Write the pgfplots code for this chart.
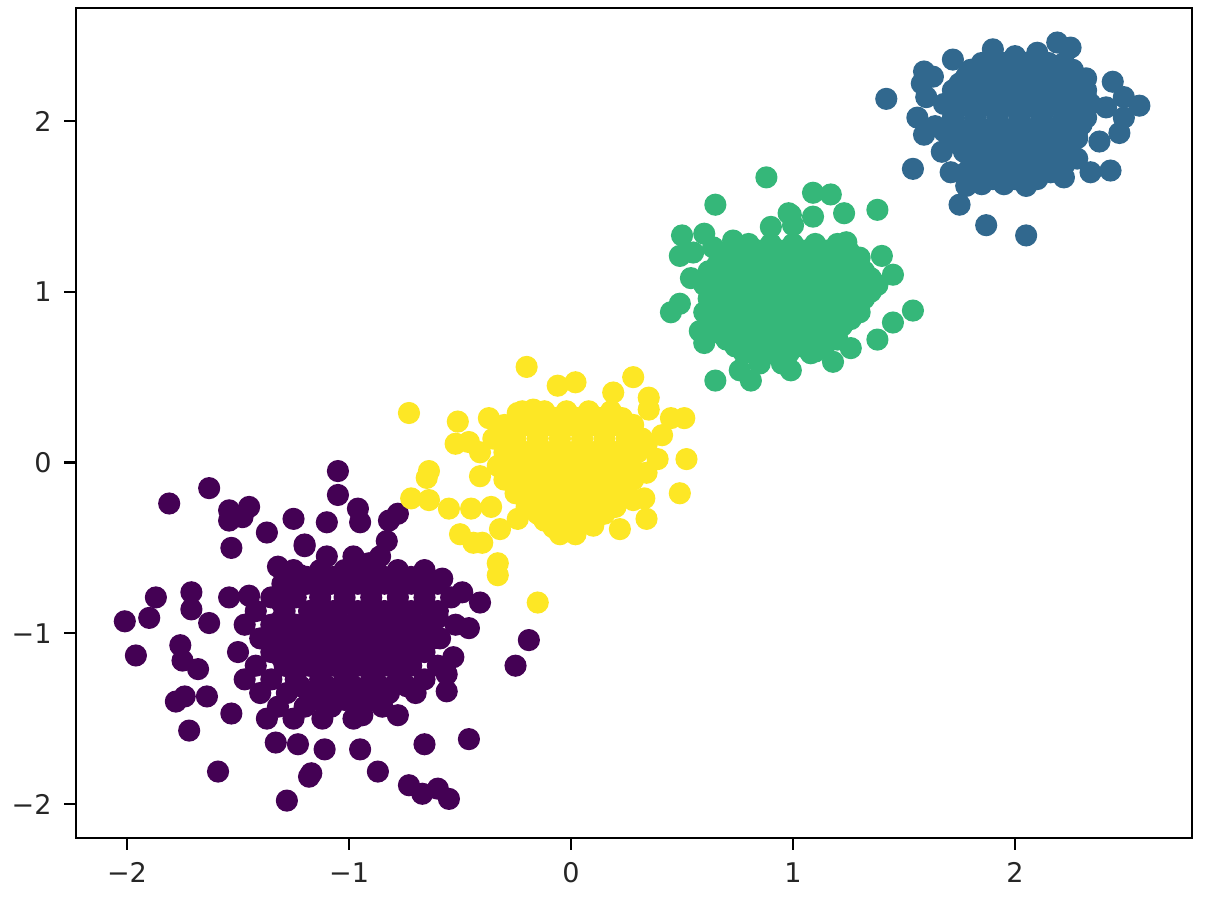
\documentclass[border=0pt]{standalone}
\usepackage{pgfplots}
\pgfplotsset{compat=1.18}
\usepackage{fontspec}
\setmainfont{DejaVu Sans}
\definecolor{vpurple}{HTML}{440154}
\definecolor{vblue}{HTML}{31688E}
\definecolor{vgreen}{HTML}{35B779}
\definecolor{vyellow}{HTML}{FDE725}
\begin{document}
\begin{tikzpicture}
\begin{axis}[
  scale only axis,
  width=111.6mm, height=83mm,
  xmin=-2.2297, xmax=2.797,
  ymin=-2.199, ymax=2.662,
  xtick={-2,-1,0,1,2}, xticklabels={−2,−1,0,1,2},
  ytick={-2,-1,0,1,2}, yticklabels={−2,−1,0,1,2},
  tick align=outside, tick pos=left,
  major tick length=1.2mm,
  axis line style={line width=0.7pt},
  every tick/.style={black, line width=0.7pt},
  tick label style={font=\fontsize{7.7}{9}\selectfont, text=black!85},
  every axis plot/.append style={only marks, mark=*, mark size=2.95pt, mark options={draw=none}},
]
% purple cluster
\addplot[color=vpurple, mark options={fill=vpurple}] coordinates {
(-1.81,-0.24) (-1.63,-0.15) (-1.54,-0.28) (-1.45,-0.26) (-1.54,-0.34) (-1.48,-0.32)
(-1.37,-0.41) (-1.25,-0.33) (-1.53,-0.50) (-1.20,-0.49) (-1.32,-0.61) (-1.22,-0.66)
(-1.87,-0.79) (-1.71,-0.76) (-1.71,-0.86) (-1.54,-0.79) (-1.45,-0.78) (-2.01,-0.93)
(-1.90,-0.91) (-1.63,-0.94) (-1.05,-0.05) (-1.05,-0.19) (-0.96,-0.27) (-0.95,-0.35)
(-1.10,-0.35) (-0.78,-0.30) (-0.82,-0.34) (-0.83,-0.46) (-1.20,-0.48) (-0.91,-0.59)
(-0.41,-0.82) (-0.58,-0.68) (-0.49,-0.76) (-1.96,-1.13) (-1.76,-1.07) (-1.75,-1.16)
(-1.68,-1.21) (-1.78,-1.40) (-1.74,-1.37) (-1.64,-1.37) (-1.53,-1.47) (-1.72,-1.57)
(-1.59,-1.81) (-1.28,-1.98) (-1.33,-1.64) (-1.18,-1.84) (-1.37,-1.50) (-1.23,-1.65)
(-0.46,-0.97) (-0.59,-1.03) (-0.53,-1.14) (-0.56,-1.24) (-0.56,-1.34) (-0.19,-1.04)
(-0.25,-1.19) (-0.46,-1.62) (-0.66,-1.65) (-0.95,-1.68) (-0.87,-1.81) (-1.17,-1.82)
(-0.73,-1.89) (-0.67,-1.94) (-0.60,-1.91) (-0.55,-1.97) (-0.78,-1.48) (-0.94,-1.48)
(-1.11,-1.68)
(-1.10,-0.55) (-0.98,-0.55) (-0.86,-0.55)
(-1.25,-0.63) (-1.13,-0.63) (-1.02,-0.63) (-0.90,-0.63) (-0.78,-0.63) (-0.66,-0.63)
(-1.30,-0.71) (-1.19,-0.71) (-1.08,-0.71) (-0.96,-0.71) (-0.84,-0.71) (-0.72,-0.71) (-0.60,-0.71)
(-1.35,-0.79) (-1.24,-0.79) (-1.13,-0.79) (-1.02,-0.79) (-0.90,-0.79) (-0.78,-0.79) (-0.66,-0.79) (-0.54,-0.79)
(-1.42,-0.87) (-1.29,-0.87) (-1.18,-0.87) (-1.07,-0.87) (-0.96,-0.87) (-0.84,-0.87) (-0.72,-0.87) (-0.60,-0.87)
(-1.47,-0.95) (-1.35,-0.95) (-1.24,-0.95) (-1.13,-0.95) (-1.02,-0.95) (-0.90,-0.95) (-0.78,-0.95) (-0.66,-0.95) (-0.52,-0.95)
(-1.40,-1.03) (-1.29,-1.03) (-1.18,-1.03) (-1.07,-1.03) (-0.96,-1.03) (-0.84,-1.03) (-0.72,-1.03) (-0.62,-1.03)
(-1.50,-1.11) (-1.35,-1.11) (-1.24,-1.11) (-1.13,-1.11) (-1.02,-1.11) (-0.90,-1.11) (-0.78,-1.11) (-0.66,-1.11)
(-1.42,-1.19) (-1.29,-1.19) (-1.18,-1.19) (-1.07,-1.19) (-0.96,-1.19) (-0.84,-1.19) (-0.72,-1.19) (-0.60,-1.19)
(-1.47,-1.27) (-1.35,-1.27) (-1.24,-1.27) (-1.13,-1.27) (-1.02,-1.27) (-0.90,-1.27) (-0.78,-1.27) (-0.66,-1.27)
(-1.40,-1.35) (-1.28,-1.35) (-1.16,-1.35) (-1.05,-1.35) (-0.93,-1.35) (-0.82,-1.35) (-0.70,-1.35)
(-1.32,-1.43) (-1.20,-1.43) (-1.08,-1.43) (-0.96,-1.43) (-0.85,-1.43)
(-1.25,-1.50) (-1.12,-1.50) (-0.98,-1.50)
(-1.19,-0.67) (-1.07,-0.67) (-0.96,-0.67) (-0.84,-0.67) (-0.72,-0.67)
(-1.25,-0.75) (-1.13,-0.75) (-1.02,-0.75) (-0.90,-0.75) (-0.78,-0.75) (-0.66,-0.75)
(-1.30,-0.83) (-1.13,-0.83) (-1.02,-0.83) (-0.90,-0.83) (-0.78,-0.83) (-0.66,-0.83)
(-1.30,-0.91) (-1.18,-0.91) (-1.07,-0.91) (-0.96,-0.91) (-0.84,-0.91) (-0.72,-0.91) (-0.60,-0.91)
(-1.24,-0.99) (-1.13,-0.99) (-1.02,-0.99) (-0.90,-0.99) (-0.78,-0.99) (-0.66,-0.99)
(-1.35,-1.07) (-1.24,-1.07) (-1.13,-1.07) (-1.02,-1.07) (-0.90,-1.07) (-0.78,-1.07) (-0.66,-1.07)
(-1.30,-1.15) (-1.18,-1.15) (-1.07,-1.15) (-0.96,-1.15) (-0.84,-1.15) (-0.72,-1.15)
(-1.24,-1.23) (-1.13,-1.23) (-1.02,-1.23) (-0.90,-1.23) (-0.78,-1.23)
(-1.22,-1.31) (-1.10,-1.31) (-0.98,-1.31) (-0.86,-1.31) (-0.74,-1.31)
(-1.14,-1.39) (-1.02,-1.39) (-0.90,-1.39)
};
% yellow cluster
\addplot[color=vyellow, mark options={fill=vyellow}] coordinates {
(-0.20,0.56) (-0.73,0.29) (-0.51,0.24) (-0.37,0.26) (-0.24,0.29) (-0.17,0.31)
(-0.52,0.11) (-0.46,0.12) (-0.41,0.06) (-0.64,-0.05) (-0.65,-0.09) (-0.41,-0.08)
(-0.72,-0.21) (-0.64,-0.22) (-0.55,-0.27) (-0.45,-0.27) (-0.36,-0.26) (-0.50,-0.42)
(-0.44,-0.47) (-0.40,-0.47) (-0.32,-0.39) (-0.33,-0.59) (-0.33,-0.66) (-0.15,-0.82)
(-0.24,-0.33) (0.02,0.47) (0.28,0.50) (0.19,0.41) (0.35,0.38) (0.35,0.31)
(0.45,0.26) (0.51,0.26) (0.41,0.16) (0.52,0.02) (0.49,-0.18) (0.39,0.02)
(0.34,-0.06) (0.33,-0.21) (0.34,-0.33) (0.22,-0.39) (0.10,-0.37) (-0.06,0.45)
(-0.22,0.30) (-0.12,0.30) (-0.02,0.30) (0.08,0.30) (0.18,0.30)
(-0.30,0.22) (-0.20,0.22) (-0.10,0.22) (0.00,0.22) (0.10,0.22) (0.20,0.22) (0.28,0.22)
(-0.35,0.14) (-0.25,0.14) (-0.15,0.14) (-0.05,0.14) (0.05,0.14) (0.15,0.14) (0.25,0.14) (0.32,0.14)
(-0.30,0.06) (-0.20,0.06) (-0.10,0.06) (0.00,0.06) (0.10,0.06) (0.20,0.06) (0.30,0.06)
(-0.33,-0.02) (-0.23,-0.02) (-0.13,-0.02) (-0.03,-0.02) (0.07,-0.02) (0.17,-0.02) (0.27,-0.02)
(-0.30,-0.10) (-0.20,-0.10) (-0.10,-0.10) (0.00,-0.10) (0.10,-0.10) (0.20,-0.10) (0.28,-0.10)
(-0.25,-0.18) (-0.15,-0.18) (-0.05,-0.18) (0.05,-0.18) (0.15,-0.18) (0.25,-0.18)
(-0.20,-0.26) (-0.10,-0.26) (0.00,-0.26) (0.10,-0.26) (0.20,-0.26)
(-0.12,-0.34) (-0.02,-0.34) (0.08,-0.34)
(-0.05,-0.42) (0.02,-0.42)
(-0.17,0.26) (-0.07,0.26) (0.03,0.26) (0.13,0.26) (0.23,0.26)
(-0.25,0.18) (-0.15,0.18) (-0.05,0.18) (0.05,0.18) (0.15,0.18) (0.25,0.18)
(-0.28,0.10) (-0.15,0.10) (-0.05,0.10) (0.05,0.10) (0.15,0.10) (0.25,0.10) (0.34,0.10)
(-0.25,0.02) (-0.15,0.02) (-0.05,0.02) (0.05,0.02) (0.15,0.02) (0.25,0.02)
(-0.28,-0.06) (-0.18,-0.06) (-0.08,-0.06) (0.02,-0.06) (0.12,-0.06) (0.22,-0.06) (0.30,-0.06)
(-0.25,-0.14) (-0.15,-0.14) (-0.05,-0.14) (0.05,-0.14) (0.15,-0.14) (0.24,-0.14)
(-0.20,-0.22) (-0.10,-0.22) (0.00,-0.22) (0.10,-0.22) (0.20,-0.22) (0.28,-0.22)
(-0.15,-0.30) (-0.05,-0.30) (0.05,-0.30) (0.15,-0.30)
(-0.08,-0.38) (0.03,-0.38)
};
% green cluster
\addplot[color=vgreen, mark options={fill=vgreen}] coordinates {
(0.88,1.67) (0.65,1.51) (0.50,1.33) (0.60,1.34) (0.49,1.21) (0.55,1.23)
(0.64,1.26) (0.73,1.30) (0.54,1.08) (0.45,0.88) (0.49,0.93) (0.58,0.77)
(0.60,0.70) (0.65,0.48) (0.76,0.54) (0.81,0.48) (0.99,1.45) (0.90,1.38)
(1.09,1.58) (1.17,1.57) (1.23,1.46) (1.38,1.48) (0.98,1.46) (1.09,1.44)
(1.00,1.39) (1.24,1.29) (1.40,1.21) (1.45,1.10) (1.54,0.89) (1.45,0.82)
(1.38,0.72) (1.18,0.59) (1.26,0.67) (1.10,0.65) (0.99,0.54)
(0.80,1.28) (0.90,1.28) (1.00,1.28) (1.10,1.28) (1.20,1.28)
(0.70,1.20) (0.80,1.20) (0.90,1.20) (1.00,1.20) (1.10,1.20) (1.20,1.20) (1.30,1.20)
(0.62,1.12) (0.72,1.12) (0.82,1.12) (0.92,1.12) (1.02,1.12) (1.12,1.12) (1.22,1.12) (1.32,1.12)
(0.60,1.04) (0.70,1.04) (0.80,1.04) (0.90,1.04) (1.00,1.04) (1.10,1.04) (1.20,1.04) (1.30,1.04) (1.38,1.04)
(0.62,0.96) (0.72,0.96) (0.82,0.96) (0.92,0.96) (1.02,0.96) (1.12,0.96) (1.22,0.96) (1.32,0.96)
(0.60,0.88) (0.70,0.88) (0.80,0.88) (0.90,0.88) (1.00,0.88) (1.10,0.88) (1.20,0.88) (1.30,0.88)
(0.62,0.80) (0.72,0.80) (0.82,0.80) (0.92,0.80) (1.02,0.80) (1.12,0.80) (1.22,0.80)
(0.70,0.72) (0.80,0.72) (0.90,0.72) (1.00,0.72) (1.10,0.72) (1.20,0.72)
(0.78,0.64) (0.88,0.64) (0.98,0.64) (1.08,0.64)
(0.85,0.58) (0.95,0.58)
(0.75,1.24) (0.85,1.24) (0.95,1.24) (1.05,1.24) (1.15,1.24) (1.25,1.24)
(0.66,1.16) (0.76,1.16) (0.86,1.16) (0.96,1.16) (1.06,1.16) (1.16,1.16) (1.26,1.16)
(0.66,1.08) (0.76,1.08) (0.86,1.08) (0.96,1.08) (1.06,1.08) (1.16,1.08) (1.26,1.08) (1.35,1.08)
(0.66,1.00) (0.76,1.00) (0.86,1.00) (0.96,1.00) (1.06,1.00) (1.16,1.00) (1.26,1.00) (1.35,1.00)
(0.66,0.92) (0.76,0.92) (0.86,0.92) (0.96,0.92) (1.06,0.92) (1.16,0.92) (1.26,0.92)
(0.66,0.84) (0.76,0.84) (0.86,0.84) (0.96,0.84) (1.06,0.84) (1.16,0.84) (1.26,0.84)
(0.67,0.76) (0.76,0.76) (0.86,0.76) (0.96,0.76) (1.06,0.76) (1.16,0.76)
(0.74,0.68) (0.84,0.68) (0.94,0.68) (1.04,0.68) (1.14,0.68)
};
% blue cluster
\addplot[color=vblue, mark options={fill=vblue}] coordinates {
(1.42,2.13) (1.59,2.29) (1.63,2.26) (1.58,2.22) (1.72,2.36) (1.90,2.42)
(1.60,2.14) (1.56,2.02) (1.59,1.92) (1.54,1.72) (1.67,1.82) (1.71,1.70)
(1.75,1.51) (1.87,1.39) (2.05,1.33) (2.19,2.46) (2.25,2.43) (2.32,2.25)
(2.44,2.23) (2.49,2.14) (2.56,2.09) (2.41,2.08) (2.49,2.02) (2.47,1.93)
(2.38,1.88) (2.34,1.70) (2.43,1.71) (2.00,2.38) (2.10,2.40) (1.78,1.62)
(2.05,1.62) (2.22,1.67) (1.64,1.97)
(1.85,2.34) (1.95,2.34) (2.05,2.34) (2.15,2.34) (2.22,2.34)
(1.78,2.26) (1.88,2.26) (1.98,2.26) (2.08,2.26) (2.18,2.26) (2.28,2.26)
(1.72,2.18) (1.82,2.18) (1.92,2.18) (2.02,2.18) (2.12,2.18) (2.22,2.18) (2.32,2.18)
(1.68,2.10) (1.78,2.10) (1.88,2.10) (1.98,2.10) (2.08,2.10) (2.18,2.10) (2.28,2.10) (2.34,2.10)
(1.72,2.02) (1.82,2.02) (1.92,2.02) (2.02,2.02) (2.12,2.02) (2.22,2.02) (2.32,2.02)
(1.68,1.94) (1.78,1.94) (1.88,1.94) (1.98,1.94) (2.08,1.94) (2.18,1.94) (2.28,1.94)
(1.75,1.86) (1.85,1.86) (1.95,1.86) (2.05,1.86) (2.15,1.86) (2.25,1.86)
(1.80,1.78) (1.90,1.78) (2.00,1.78) (2.10,1.78) (2.20,1.78) (2.28,1.78)
(1.78,1.70) (1.88,1.70) (1.98,1.70) (2.08,1.70) (2.16,1.70)
(1.85,1.63) (1.95,1.63) (2.05,1.63)
(1.80,2.30) (1.90,2.30) (2.00,2.30) (2.10,2.30) (2.20,2.30) (2.26,2.30)
(1.75,2.22) (1.85,2.22) (1.95,2.22) (2.05,2.22) (2.15,2.22) (2.25,2.22)
(1.73,2.14) (1.83,2.14) (1.93,2.14) (2.03,2.14) (2.13,2.14) (2.23,2.14) (2.32,2.14)
(1.73,2.06) (1.83,2.06) (1.93,2.06) (2.03,2.06) (2.13,2.06) (2.23,2.06) (2.30,2.06)
(1.73,1.98) (1.83,1.98) (1.93,1.98) (2.03,1.98) (2.13,1.98) (2.23,1.98) (2.30,1.98)
(1.72,1.90) (1.80,1.90) (1.90,1.90) (2.00,1.90) (2.10,1.90) (2.20,1.90) (2.28,1.90)
(1.77,1.82) (1.85,1.82) (1.95,1.82) (2.05,1.82) (2.15,1.82) (2.24,1.82)
(1.83,1.74) (1.93,1.74) (2.03,1.74) (2.13,1.74) (2.22,1.74)
(1.90,1.66) (2.00,1.66) (2.10,1.66)
};
\end{axis}
\path ([shift={(-7.6mm,-6.1mm)}]current axis.south west) rectangle ([shift={(3.1mm,0.8mm)}]current axis.north east);
\end{tikzpicture}
\end{document}
